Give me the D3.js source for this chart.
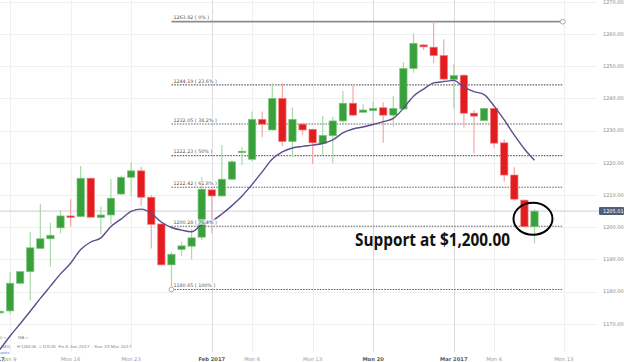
<!DOCTYPE html>
<html><head><meta charset="utf-8">
<script src="https://cdn.jsdelivr.net/npm/d3@7"></script>
<style>html,body{margin:0;padding:0;background:#fff;}svg{display:block;}</style>
</head><body>
<svg id="chart" width="624" height="362"></svg>
<script>
// ---- data ----
const days = ["Jan 8","Jan 9","Jan 10","Jan 11","Jan 12","Jan 13",
"Jan 15","Jan 16","Jan 17","Jan 18","Jan 19","Jan 20",
"Jan 22","Jan 23","Jan 24","Jan 25","Jan 26","Jan 27",
"Jan 29","Jan 30","Jan 31","Feb 1","Feb 2","Feb 3",
"Feb 5","Feb 6","Feb 7","Feb 8","Feb 9","Feb 10",
"Feb 12","Feb 13","Feb 14","Feb 15","Feb 16","Feb 17",
"Feb 19","Feb 20","Feb 21","Feb 22","Feb 23","Feb 24",
"Feb 26","Feb 27","Feb 28","Mar 1","Mar 2","Mar 3",
"Mar 5","Mar 6","Mar 7","Mar 8","Mar 9","Mar 10"];
const opens = [1173.4,1174.0,1182.6,1186.2,1193.4,1196.4,1199.8,1203.5,1203.3,1215.2,
1203.0,1203.8,1210.3,1215.5,1217.5,1209.3,1201.0,1188.3,1193.1,1194.1,
1196.9,1211.6,1209.7,1214.9,1223.2,1221.1,1233.5,1230.2,1240.0,1226.6,
1232.0,1230.4,1226.0,1228.4,1233.0,1238.5,1235.7,1236.2,1237.1,1234.8,
1236.7,1249.3,1256.6,1255.9,1253.3,1245.9,1247.2,1235.4,1233.1,1236.9,
1226.2,1216.2,1208.4,1200.2];
const highs = [1174.2,1186.2,1186.5,1198.4,1207.2,1201.4,1205.3,1208.7,1219.0,1215.4,
1206.4,1215.0,1216.0,1220.2,1218.8,1210.0,1201.2,1192.4,1195.5,1199.4,
1215.5,1211.8,1225.5,1220.8,1224.8,1235.9,1235.9,1244.7,1244.7,1237.2,
1232.2,1230.6,1234.5,1234.3,1242.3,1244.0,1238.2,1239.0,1238.8,1240.7,
1251.2,1260.2,1256.9,1263.82,1258.4,1250.6,1247.5,1236.4,1237.1,1237.0,
1227.3,1218.6,1208.6,1205.6];
const lows = [1173.0,1173.0,1182.3,1177.2,1193.1,1187.7,1198.1,1200.2,1203.1,1203.0,
1197.9,1200.9,1210.1,1209.5,1206.6,1193.4,1188.1,1180.65,1191.0,1190.0,
1196.0,1198.1,1209.5,1214.6,1219.3,1220.3,1227.9,1230.0,1225.2,1221.7,
1228.6,1219.6,1222.4,1219.8,1232.3,1234.6,1235.5,1232.3,1226.2,1231.2,
1236.5,1248.0,1255.0,1250.9,1245.5,1236.9,1231.0,1223.0,1233.0,1224.7,
1214.1,1208.3,1200.0,1195.0];
const closes = [1173.9,1182.6,1186.2,1193.6,1196.4,1197.5,1203.5,1203.1,1215.2,1203.1,
1203.8,1209.0,1215.5,1217.5,1209.3,1200.9,1188.3,1191.6,1194.2,1196.7,
1211.8,1209.7,1214.9,1220.3,1223.6,1233.5,1232.0,1240.0,1226.6,1233.5,
1230.2,1226.2,1228.5,1233.0,1238.5,1234.8,1236.4,1236.9,1234.8,1236.9,
1249.3,1257.1,1256.0,1253.3,1246.0,1247.1,1235.4,1234.5,1236.9,1226.1,
1216.2,1208.7,1200.2,1205.0];
const maValues = [1162.0,1166.2,1170.0,1173.9,1177.9,1181.7,1185.5,1188.8,1193.1,1195.4,
1196.7,1200.2,1202.5,1204.9,1205.6,1204.3,1201.6,1199.9,1199.1,1198.6,
1200.7,1201.9,1204.1,1206.7,1209.7,1213.3,1217.2,1221.2,1223.4,1224.6,
1225.1,1225.5,1226.0,1227.1,1229.3,1230.5,1231.1,1231.9,1232.8,1233.8,
1236.9,1240.7,1242.9,1244.8,1245.2,1245.6,1243.5,1242.1,1241.2,1237.6,
1233.3,1228.6,1224.3,1220.8];
const priceTicks = [1170,1180,1190,1200,1210,1220,1230,1240,1250,1260,1270];
const dateTickIndex = [-0.8,1,7,13,21,25,31,37,45,49,55.9];
const dateTickLabels = ["Jan 2017","Jan 9","Mon 16","Mon 23","Feb 2017","Mon 6","Mon 13","Mon 20","Mar 2017","Mon 6","Mon 13"];
const fibLevels = [1263.82,1244.19,1232.05,1222.23,1212.42,1200.28,1180.65];
const fibPercents = ["0%","23.6%","38.2%","50%","61.8%","76.4%","100%"];
const fibStartIndex = 17, fibEndIndex = 55.8;
const lastPrice = 1205.01;
const supportLevel = 1200.00;
const supportText = "Support at $1,200.00";
const legendItems = [".04%","H 1264.06","L 1170.90","Fri 6 Jan 2017 - Sun 19 Mar 2017"];

// ---- scales ----
const svg = d3.select("#chart");
const x = d3.scaleLinear().domain([0, 53]).range([0, 534.5]);
const y = d3.scaleLinear().domain([1170, 1270]).range([323.8, 1.8]);
const plotRight = 597, plotBottom = 352;
const fmt = d3.format(".2f");

svg.append("rect").attr("width",624).attr("height",362).attr("fill","#fff");

// grid
svg.append("g").selectAll("line").data(priceTicks).join("line")
  .attr("x1",0).attr("x2",plotRight)
  .attr("y1",d=>Math.round(y(d))+0.5).attr("y2",d=>Math.round(y(d))+0.5)
  .attr("stroke","#f0f0f2").attr("stroke-width",1);
svg.append("g").selectAll("line").data(dateTickIndex).join("line")
  .attr("x1",d=>Math.round(x(d))+0.5).attr("x2",d=>Math.round(x(d))+0.5)
  .attr("y1",0).attr("y2",plotBottom)
  .attr("stroke",(d,i)=>/20/.test(dateTickLabels[i]) ? "#dcdce0" : "#f0f0f3").attr("stroke-width",1);

// current price line
svg.append("line").attr("x1",0).attr("x2",600)
  .attr("y1",y(lastPrice)).attr("y2",y(lastPrice))
  .attr("stroke","#cfcbdc").attr("stroke-width",1);

svg.append("defs").append("clipPath").attr("id","plotclip")
  .append("rect").attr("x",0).attr("y",0).attr("width",plotRight).attr("height",plotBottom);
const plot = svg.append("g").attr("clip-path","url(#plotclip)");

// fib lines
const fx1 = x(fibStartIndex), fx2 = x(fibEndIndex);
plot.append("g").selectAll("line").data(fibLevels).join("line")
  .attr("x1",fx1).attr("x2",fx2)
  .attr("y1",d=>y(d)).attr("y2",d=>y(d))
  .attr("stroke",(d,i)=>i===0?"#8c8c8c":"#666")
  .attr("stroke-width",(d,i)=>i===0?1.8:1.1)
  .attr("stroke-dasharray",(d,i)=>i===0?null:"1.6,1.2");

// candles
const bw = 7.3;
const cdata = opens.map((o,i)=>({i, day:days[i], o, h:highs[i], l:lows[i], c:closes[i], up: closes[i]>=o}));
const cg = plot.append("g");
cg.selectAll("line.wick").data(cdata).join("line").attr("class","wick")
  .attr("x1",d=>x(d.i)).attr("x2",d=>x(d.i))
  .attr("y1",d=>y(d.h)).attr("y2",d=>y(d.l))
  .attr("stroke",d=>d.up?"#a9d9a9":"#f2a9a9").attr("stroke-width",1.2);
cg.selectAll("rect.body").data(cdata).join("rect").attr("class","body")
  .attr("x",d=>x(d.i)-bw/2).attr("width",bw)
  .attr("y",d=>y(Math.max(d.o,d.c)))
  .attr("height",d=>Math.max(1.5, Math.abs(y(d.o)-y(d.c))))
  .attr("fill",d=>d.up?"#39a03b":"#e31c1f")
  .attr("stroke",d=>d.up?"#7cc67c":"#f07a7a").attr("stroke-width",0.7);

// MA line
plot.append("path").datum(maValues)
  .attr("d", d3.line().x((d,i)=>x(i)).y(d=>y(d)).curve(d3.curveMonotoneX))
  .attr("fill","none").attr("stroke","#5e4c8c").attr("stroke-width",1.4);

// fib labels
const fl = plot.append("g").selectAll("g").data(fibLevels).join("g");
fl.append("rect")
  .attr("x",fx1+1).attr("y",d=>y(d)-7).attr("width",(d,i)=>i===0?37:(fibPercents[i].length>3?44:40)).attr("height",5.5)
  .attr("fill","#fff").attr("opacity",0.75);
fl.append("text")
  .attr("x",fx1+2).attr("y",d=>y(d)-2.2)
  .attr("font-family","DejaVu Sans, sans-serif").attr("font-size",4.8)
  .attr("fill","#555")
  .text((d,i)=>fmt(d)+" ( "+fibPercents[i]+" )");

// fib end circles
svg.append("circle").attr("cx",fx2).attr("cy",y(fibLevels[0])).attr("r",2.4)
  .attr("fill","#fff").attr("stroke","#aaa").attr("stroke-width",1);
svg.append("circle").attr("cx",fx1).attr("cy",y(fibLevels[fibLevels.length-1])).attr("r",2.4)
  .attr("fill","#fff").attr("stroke","#aaa").attr("stroke-width",1);

// right axis
svg.append("g").selectAll("text").data(priceTicks).join("text")
  .attr("x",603).attr("y",d=>y(d)+1.7)
  .attr("font-family","DejaVu Sans, sans-serif").attr("font-size",5)
  .attr("fill","#888").text(d=>fmt(d));
svg.append("rect").attr("x",599).attr("y",y(lastPrice)-4).attr("width",25).attr("height",8)
  .attr("fill","#4f5e7a").attr("rx",1);
svg.append("text").attr("x",603).attr("y",y(lastPrice)+1.8)
  .attr("font-family","DejaVu Sans, sans-serif").attr("font-size",5)
  .attr("fill","#fff").text(fmt(lastPrice));

// bottom axis
svg.append("g").selectAll("text").data(dateTickIndex).join("text")
  .attr("x",d=>x(d)).attr("y",361).attr("text-anchor","middle")
  .attr("font-family","DejaVu Sans, sans-serif").attr("font-size",5.2)
  .attr("font-weight",(d,i)=>/20/.test(dateTickLabels[i])?"bold":"normal")
  .attr("fill",(d,i)=>/20/.test(dateTickLabels[i])?"#555":"#999")
  .text((d,i)=>dateTickLabels[i]);

// legend (bottom-left, partly cut)
const lg = svg.append("g").attr("font-family","Liberation Sans, Arial, sans-serif").attr("font-size",4.3);
lg.append("text").attr("x",0).attr("y",338.5).attr("fill","#888").text("0 ×");
lg.append("text").attr("x",18).attr("y",338.5).attr("fill","#888").text("MA ×");
const legX = [0, 17, 39.5, 58.5], legW = [10, 19, 16, 73];
const legC = ["#3a7fd0","#777","#777","#888"];
lg.selectAll("text.leg").data(legendItems).join("text").attr("class","leg")
  .attr("x",(d,i)=>legX[i]).attr("y",347.5).attr("fill",(d,i)=>legC[i])
  .attr("textLength",(d,i)=>legW[i]).attr("lengthAdjust","spacingAndGlyphs")
  .text(d=>d);
lg.append("text").attr("x",0).attr("y",354).attr("fill","#3a7fd0").attr("font-size",3.8).text("uotes");

// annotation
svg.append("text").attr("x",355).attr("y",245.5)
  .attr("font-family","Open Sans, sans-serif").attr("font-weight","bold").attr("font-size",17.5)
  .attr("fill","#111").attr("textLength",155).attr("lengthAdjust","spacingAndGlyphs")
  .text(supportText);
svg.append("ellipse").attr("cx",x(52.85)).attr("cy",y(supportLevel+2.6))
  .attr("rx",19.5).attr("ry",16).attr("fill","none").attr("stroke","#000").attr("stroke-width",2);
</script>
</body></html>
